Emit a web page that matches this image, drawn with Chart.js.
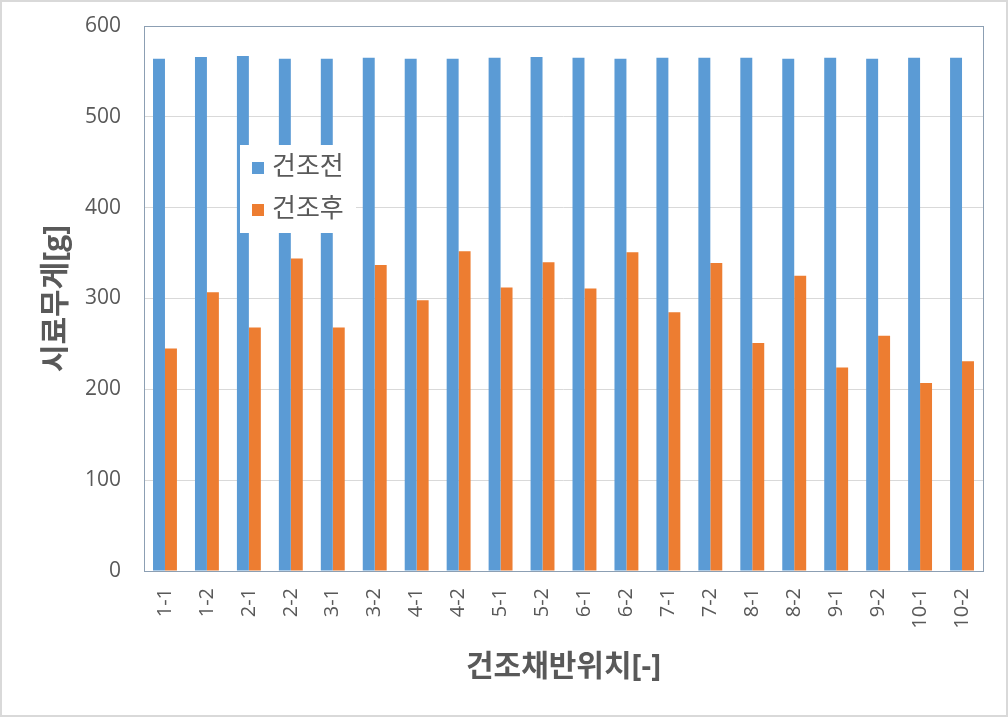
<!DOCTYPE html>
<html>
<head>
<meta charset="utf-8">
<script src="https://cdn.jsdelivr.net/npm/chart.js@4.4.1/dist/chart.umd.min.js"></script>
<style>
  html, body { margin: 0; padding: 0; background: #fff; }
  #wrap { width: 1008px; height: 717px; }
</style>
</head>
<body>
<div id="wrap"><canvas id="myChart" width="1008" height="717"></canvas></div>
<script>
const positions = ['1-1', '1-2', '2-1', '2-2', '3-1', '3-2', '4-1', '4-2', '5-1', '5-2',
  '6-1', '6-2', '7-1', '7-2', '8-1', '8-2', '9-1', '9-2', '10-1', '10-2'];
const beforeDrying = [564, 566, 567, 564, 564, 565, 564, 564, 565, 566,
  565, 564, 565, 565, 565, 564, 565, 564, 565, 565];
const afterDrying = [245, 307, 268, 344, 268, 337, 298, 352, 312, 340,
  311, 351, 285, 339, 251, 325, 224, 259, 207, 231];
const seriesNames = ['건조전', '건조후'];

const textColor = '#595959';
const fontFamily = "'Open Sans', 'Noto Sans CJK KR', sans-serif";

// frame around the whole picture and the plot area
const frames = {
  id: 'frames',
  beforeDraw(chart) {
    const c = chart.ctx;
    c.save();
    c.fillStyle = '#fff';
    c.fillRect(0, 0, chart.width, chart.height);
    c.restore();
  },
  afterDraw(chart) {
    const c = chart.ctx;
    const a = chart.chartArea;
    c.save();
    c.strokeStyle = '#d9d9d9';
    c.lineWidth = 2;
    c.strokeRect(1, 1, chart.width - 2, chart.height - 2);
    c.strokeStyle = '#8c9fb3';
    c.lineWidth = 1;
    c.strokeRect(Math.round(a.left) + 0.5, Math.round(a.top) + 0.5,
      Math.round(a.right - a.left), Math.round(a.bottom - a.top));
    c.restore();
  }
};

// legend sits inside the plot, on a white box over the bars
const boxLegend = {
  id: 'boxLegend',
  afterDatasetsDraw(chart) {
    const c = chart.ctx;
    const a = chart.chartArea;
    const x = a.left + 96, y = a.top + 119;
    c.save();
    c.fillStyle = '#fff';
    c.fillRect(x, y, 116, 88);
    c.font = "26px " + fontFamily;
    c.textBaseline = 'middle';
    chart.data.datasets.forEach((ds, i) => {
      const cy = y + 23 + i * 42;
      c.fillStyle = ds.backgroundColor;
      c.fillRect(x + 12, cy - 6, 12, 12);
      c.fillStyle = textColor;
      c.fillText(ds.label, x + 32, cy);
    });
    c.restore();
  }
};

const ctx = document.getElementById('myChart');

new Chart(ctx, {
  type: 'bar',
  data: {
    labels: positions,
    datasets: [
      {
        label: seriesNames[0],
        data: beforeDrying,
        backgroundColor: '#5b9bd5',
        categoryPercentage: 0.57,
        barPercentage: 1,
      },
      {
        label: seriesNames[1],
        data: afterDrying,
        backgroundColor: '#ed7d31',
        categoryPercentage: 0.57,
        barPercentage: 1,
      },
    ],
  },
  options: {
    responsive: false,
    animation: false,
    layout: { padding: { left: 0, top: 26, right: 25, bottom: 0 } },
    plugins: {
      legend: { display: false },
      tooltip: { enabled: false },
    },
    scales: {
      x: {
        grid: { display: false, drawTicks: false },
        border: { display: false },
        ticks: {
          color: textColor,
          font: { size: 20, family: fontFamily },
          minRotation: 90,
          maxRotation: 90,
          padding: 17,
          autoSkip: false,
        },
        title: {
          display: true,
          text: '건조채반위치[-]',
          color: textColor,
          font: { size: 30, weight: 'bold', family: fontFamily },
          padding: { top: 0, bottom: 32 },
        },
        afterFit(scale) { scale.height = 146; },
      },
      y: {
        min: 0,
        max: 600,
        ticks: {
          stepSize: 100,
          color: textColor,
          font: { size: 21, family: fontFamily },
          padding: 23,
        },
        grid: { color: '#d9d9d9', drawTicks: false },
        border: { display: false },
        title: {
          display: true,
          text: '시료무게[g]',
          color: textColor,
          font: { size: 30, weight: 'bold', family: fontFamily },
          padding: { top: 38, bottom: 0 },
        },
        afterFit(scale) {
          scale.width = 144;
          scale.paddingTop = 0;
          scale.paddingBottom = 0;
        },
      },
    },
  },
  plugins: [frames, boxLegend],
});
</script>
</body>
</html>
